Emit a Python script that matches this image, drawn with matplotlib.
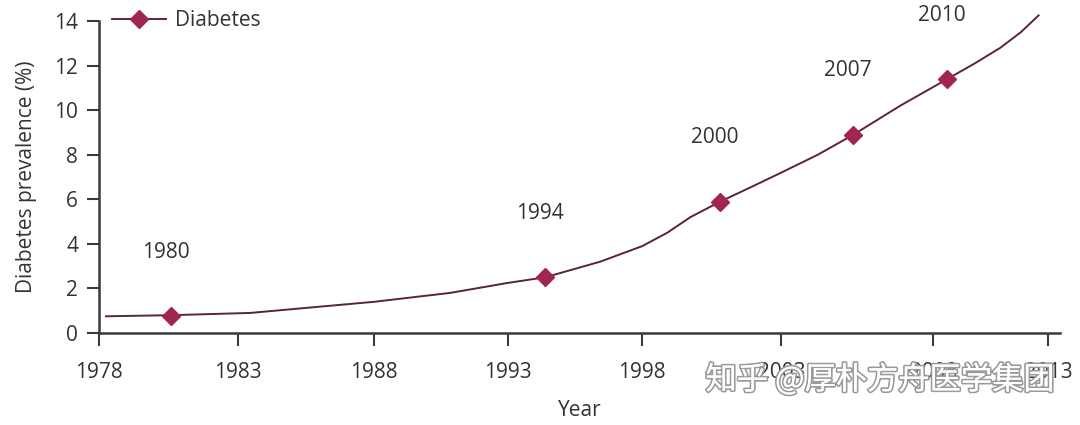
import numpy as np
import matplotlib
matplotlib.use('Agg')
import matplotlib.pyplot as plt
import matplotlib.patheffects as pe

# Curva (anos, prevalência %)
anos_curva = [1978.25, 1980.6, 1983.44, 1988.0, 1990.84, 1993.0, 1994.38, 1996.43,
              1998.0, 1998.9, 1999.73, 2000.81, 2002.0, 2003.0, 2004.2, 2005.37,
              2006.2, 2006.91, 2008.61, 2009.8, 2010.91, 2011.8, 2012.57]
prev_curva = [0.75, 0.8, 0.9, 1.4, 1.8, 2.25, 2.5, 3.2,
              3.9, 4.5, 5.2, 5.9, 6.6, 7.2, 8.0, 8.9,
              9.6, 10.2, 11.4, 12.1, 12.8, 13.5, 14.25]

# Pontos dos inquéritos
anos_pontos = [1980.6, 1994.38, 2000.81, 2005.37, 2008.61]
prev_pontos = [0.75, 2.5, 5.9, 8.9, 11.4]
rotulos_pontos = ['1980', '1994', '2000', '2007', '2010']

anos_ticks = [1978, 1983, 1988, 1993, 1998, 2003, 2008, 2013]
y_ticks = [0, 2, 4, 6, 8, 10, 12, 14]

# Escala do eixo x do original (não é linear)
escala_anos = [1960, 1978, 1983, 1988, 1993, 1998, 2003, 2008, 2013, 2030]
escala_pos = [-389, 99, 238, 374, 508, 642, 781, 933, 1048, 1439]

def ida(x):
    return np.interp(x, escala_anos, escala_pos)

def volta(p):
    return np.interp(p, escala_pos, escala_anos)

plt.rcParams['font.family'] = ['Open Sans', 'DejaVu Sans']

cor_linha = '#5a2436'
cor_marcador = '#a0264f'
cor_eixo = '#3a3a3a'

fig = plt.figure(figsize=(10.8, 4.25), dpi=100)
ax = fig.add_axes([99 / 1080, 1 - 333 / 425, (1060 - 99) / 1080, (333 - 21) / 425])
ax.set_xscale('function', functions=(ida, volta))

ax.plot(anos_curva, prev_curva, color=cor_linha, lw=1.4, clip_on=False, zorder=2)
ax.plot(anos_pontos, prev_pontos, linestyle='none', marker='D', ms=9,
        color=cor_marcador, zorder=3, clip_on=False)
# só para a legenda
ax.plot([], [], color=cor_linha, lw=1.4, marker='D', ms=9,
        markerfacecolor=cor_marcador, markeredgecolor=cor_marcador, label='Diabetes')

for x, y, t in zip(anos_pontos, prev_pontos, rotulos_pontos):
    ax.annotate(t, (x, y), xytext=(-4, 46), textcoords='offset points',
                ha='center', va='center', fontsize=15, color='#333333')

ax.set_xlim(1978, 2013.5)
ax.set_ylim(0, 14)
ax.set_xticks(anos_ticks)
ax.set_xticklabels([str(a) for a in anos_ticks])
ax.set_yticks(y_ticks)
ax.minorticks_off()

for lado in ['top', 'right']:
    ax.spines[lado].set_visible(False)
for lado in ['left', 'bottom']:
    ax.spines[lado].set_color(cor_eixo)
    ax.spines[lado].set_linewidth(1.8)

ax.tick_params(axis='both', direction='out', length=9, width=1.5, color=cor_eixo,
               labelsize=15, labelcolor='#333333')
ax.tick_params(axis='x', pad=12)
ax.tick_params(axis='y', pad=6)

ax.set_xlabel('Year', fontsize=15, color='#333333', labelpad=12)
ax.set_ylabel('Diabetes prevalence (%)', fontsize=15, color='#333333', labelpad=12)

leg = ax.legend(loc='center left', bbox_to_anchor=(0.005, 1.0), frameon=False,
                fontsize=15, handlelength=2.6, handletextpad=0.4, borderaxespad=0)
for t in leg.get_texts():
    t.set_color('#333333')

# marca d'água
fig.text(880 / 1080, 1 - 380 / 425, '知乎 @厚朴方舟医学集团', ha='center', va='center',
         fontsize=22.5, color='white', family=['Noto Sans CJK SC', 'DejaVu Sans'],
         path_effects=[pe.withStroke(linewidth=2.5, foreground='#9a9a9a'), pe.Normal()],
         zorder=10)

fig.savefig('out.png', dpi=100)
